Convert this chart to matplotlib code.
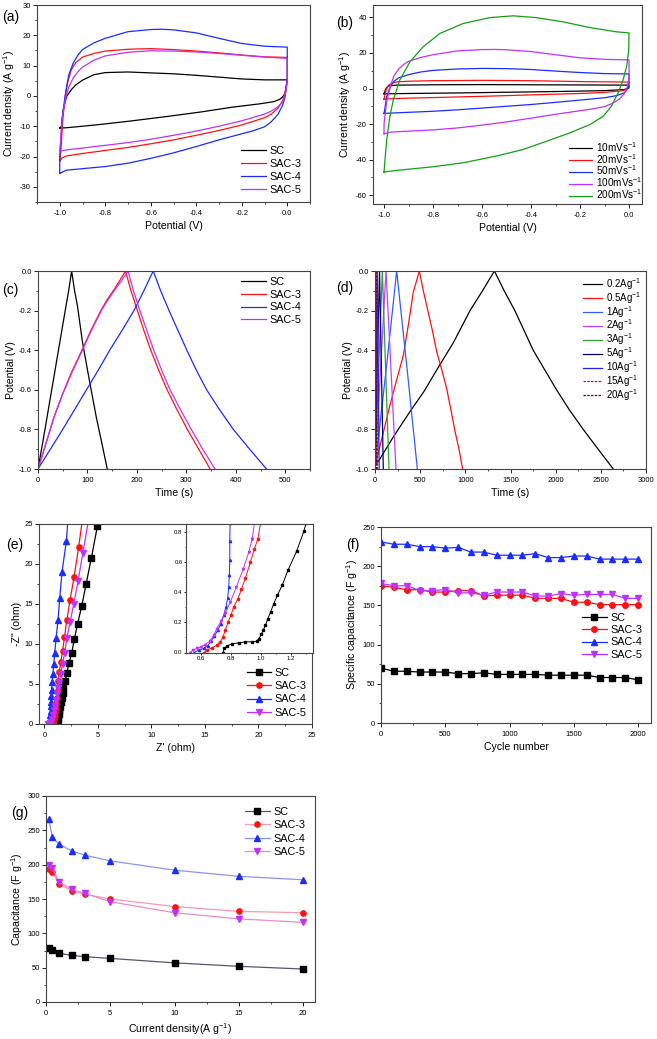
import matplotlib
matplotlib.use('Agg')
import matplotlib.pyplot as plt
from matplotlib.ticker import MultipleLocator

plt.rcParams.update({
    'font.family': ['Liberation Sans', 'DejaVu Sans'],
    'axes.unicode_minus': False,
    'mathtext.fontset': 'custom',
    'mathtext.rm': 'Liberation Sans',
    'mathtext.default': 'regular',
    'xtick.direction': 'out', 'ytick.direction': 'out',
    'xtick.labelsize': 5.5, 'ytick.labelsize': 5.5,
    'axes.labelsize': 7.6,
    'xtick.major.size': 2.8, 'ytick.major.size': 2.8,
    'xtick.minor.size': 1.5, 'ytick.minor.size': 1.5,
    'xtick.major.width': 0.6, 'ytick.major.width': 0.6,
    'xtick.minor.width': 0.5, 'ytick.minor.width': 0.5,
    'xtick.major.pad': 3.0, 'ytick.major.pad': 1.5,
    'axes.linewidth': 0.8,
    'axes.edgecolor': '#444444',
})

# ---------------- data ----------------
# (a) CV of samples at 100 mV/s
a_sc_v = [-1.0, -0.993, -0.985, -0.97, -0.95, -0.93, -0.9, -0.85, -0.8, -0.7, -0.6, -0.5, -0.4, -0.3, -0.2, -0.1, 0.0,
          0.0, -0.01, -0.02, -0.032, -0.06, -0.12, -0.24, -0.38, -0.53, -0.68, -0.82, -0.9, -0.97, -1.0]
a_sc_j = [-10.6, -10.0, -4.6, -0.2, 2.0, 3.6, 5.2, 7.0, 7.7, 7.9, 7.6, 7.3, 6.8, 6.2, 5.6, 5.3, 5.3,
          5.0, 0.8, -0.3, -1.1, -1.9, -2.6, -3.7, -5.3, -6.8, -8.2, -9.4, -10.0, -10.5, -10.6]
a_sac3_v = [-1.0, -0.995, -0.99, -0.985, -0.975, -0.965, -0.95, -0.93, -0.9, -0.85, -0.8, -0.7, -0.6, -0.5, -0.4, -0.3, -0.2, -0.1, 0.0,
            0.0, -0.005, -0.01, -0.02, -0.04, -0.07, -0.1, -0.2, -0.3, -0.4, -0.5, -0.6, -0.7, -0.8, -0.9, -0.97, -0.99, -1.0]
a_sac3_j = [-21.5, -18.0, -12.0, -6.5, 0.5, 4.5, 8.5, 11.0, 12.8, 14.0, 14.8, 15.4, 15.6, 15.3, 14.8, 14.2, 13.5, 12.9, 12.7,
            6.0, 3.0, 1.0, -1.5, -4.0, -6.0, -7.2, -9.6, -11.4, -13.0, -14.5, -15.8, -17.0, -18.0, -19.0, -19.8, -20.5, -21.5]
a_sac4_v = [-1.0, -1.0, -0.995, -0.99, -0.98, -0.97, -0.96, -0.94, -0.92, -0.9, -0.85, -0.8, -0.7, -0.6, -0.55, -0.5, -0.4, -0.3, -0.2, -0.1, 0.0,
            0.0, -0.005, -0.01, -0.02, -0.04, -0.07, -0.1, -0.15, -0.2, -0.3, -0.4, -0.5, -0.6, -0.7, -0.8, -0.9, -0.97, -1.0]
a_sac4_j = [-25.5, -20.0, -14.0, -8.0, -2.0, 3.0, 7.0, 11.0, 13.5, 15.3, 17.5, 19.0, 21.2, 21.9, 22.0, 21.8, 20.8, 19.0, 17.3, 16.4, 16.1,
            6.0, 2.0, -0.5, -3.0, -6.0, -8.5, -10.2, -11.5, -12.5, -14.5, -16.7, -18.8, -20.6, -22.2, -23.3, -24.0, -24.5, -25.5]
a_sac5_v = [-1.0, -0.995, -0.99, -0.98, -0.97, -0.96, -0.94, -0.92, -0.9, -0.85, -0.8, -0.7, -0.6, -0.5, -0.4, -0.3, -0.2, -0.1, 0.0,
            0.0, -0.005, -0.01, -0.02, -0.04, -0.07, -0.1, -0.2, -0.3, -0.4, -0.5, -0.6, -0.7, -0.8, -0.9, -0.97, -1.0]
a_sac5_j = [-18.3, -14.0, -8.0, -3.0, 0.5, 3.0, 6.0, 8.0, 9.5, 11.8, 13.2, 14.4, 14.9, 14.8, 14.5, 14.0, 13.4, 12.8, 12.4,
            5.0, 2.0, 0.0, -2.0, -3.5, -5.0, -6.0, -8.2, -10.0, -11.6, -13.0, -14.3, -15.4, -16.3, -17.2, -17.8, -18.3]

# (b) CV of SAC-4 at different scan rates
b_10_v = [-1.0, -0.995, -0.99, -0.98, -0.95, -0.8, -0.6, -0.4, -0.2, 0.0, 0.0, -0.02, -0.1, -0.3, -0.5, -0.7, -0.9, -1.0]
b_10_j = [-3.0, -1.0, 0.5, 1.5, 1.9, 2.1, 2.2, 2.1, 2.0, 1.9, 0.3, -0.6, -1.2, -1.7, -2.1, -2.5, -2.8, -3.0]
b_20_v = [-1.0, -0.995, -0.99, -0.98, -0.97, -0.95, -0.9, -0.8, -0.6, -0.4, -0.2, 0.0, -0.005, -0.01, -0.03, -0.1, -0.2, -0.4, -0.6, -0.8, -0.95, -1.0]
b_20_j = [-6.0, -3.0, 0.0, 2.0, 3.0, 3.7, 4.1, 4.4, 4.6, 4.4, 3.9, 3.6, 0.5, -0.5, -1.3, -2.2, -2.8, -3.6, -4.4, -5.1, -5.6, -6.0]
b_50_v = [-1.0, -0.995, -0.99, -0.98, -0.97, -0.96, -0.94, -0.9, -0.85, -0.8, -0.7, -0.6, -0.5, -0.4, -0.3, -0.2, -0.1, 0.0,
          0.0, -0.005, -0.01, -0.02, -0.05, -0.1, -0.2, -0.3, -0.4, -0.5, -0.6, -0.7, -0.8, -0.9, -1.0]
b_50_j = [-14.0, -10.0, -5.0, -1.0, 2.0, 4.0, 6.0, 7.8, 9.3, 10.2, 11.0, 11.3, 11.2, 10.7, 9.8, 9.0, 8.4, 8.2,
          3.0, 0.5, -1.0, -2.5, -4.0, -5.2, -6.5, -7.8, -9.0, -10.0, -11.0, -12.0, -12.8, -13.4, -14.0]
b_100_v = a_sac4_v
b_100_j = a_sac4_j
b_200_v = [-1.0, -0.996, -0.989, -0.976, -0.962, -0.935, -0.894, -0.84, -0.772, -0.677, -0.568, -0.473, -0.378, -0.269, -0.16, -0.052, 0.0,
           -0.001, -0.01, -0.024, -0.045, -0.072, -0.106, -0.16, -0.242, -0.337, -0.432, -0.541, -0.677, -0.81, -0.95, -1.0]
b_200_j = [-47.0, -40.0, -28.7, -15.7, -6.3, 4.9, 15.1, 23.5, 31.0, 36.6, 39.9, 40.9, 39.9, 37.5, 34.3, 31.9, 31.3,
           21.6, 12.3, 4.9, -2.6, -10.0, -15.7, -20.3, -25.0, -29.7, -34.3, -38.0, -41.8, -44.2, -46.1, -47.0]

# (c) GCD of samples
c_sc_t = [0, 10, 25, 40, 55, 62, 68, 74, 80, 90, 103, 118, 130, 140]
c_sc_u = [-1.0, -0.86, -0.64, -0.42, -0.2, -0.1, 0.0, -0.1, -0.18, -0.36, -0.54, -0.74, -0.88, -1.0]
c_sac3_t = [0, 15, 32, 50, 68, 87, 107, 127, 141, 155, 166, 177, 188, 201, 214, 228, 244, 261, 281, 302, 325, 348]
c_sac3_u = [-1.0, -0.88, -0.74, -0.62, -0.51, -0.41, -0.3, -0.2, -0.14, -0.09, -0.045, 0.0, -0.1, -0.2, -0.3, -0.4, -0.5, -0.6, -0.7, -0.8, -0.9, -1.0]
c_sac4_t = [0, 50, 98, 122, 145, 170, 194, 214, 233, 248, 265, 283, 301, 320, 341, 367, 395, 428, 462]
c_sac4_u = [-1.0, -0.8, -0.6, -0.5, -0.4, -0.3, -0.2, -0.1, 0.0, -0.1, -0.2, -0.3, -0.4, -0.5, -0.6, -0.7, -0.8, -0.9, -1.0]
c_sac5_t = [0, 15, 32, 50, 69, 88, 108, 128, 143, 157, 170, 182, 193, 206, 220, 234, 250, 267, 288, 310, 333, 358]
c_sac5_u = [-1.0, -0.88, -0.74, -0.62, -0.51, -0.41, -0.3, -0.2, -0.14, -0.09, -0.045, 0.0, -0.1, -0.2, -0.3, -0.4, -0.5, -0.6, -0.7, -0.8, -0.9, -1.0]

# (d) GCD of SAC-4 at different current densities
d_02_t = [10, 40, 200, 387, 540, 683, 870, 1052, 1190, 1322, 1430, 1548, 1650, 1751, 1880, 2010, 2150, 2305, 2470, 2638]
d_02_u = [-0.97, -0.96, -0.84, -0.71, -0.61, -0.5, -0.36, -0.2, -0.1, 0.0, -0.1, -0.2, -0.3, -0.4, -0.5, -0.6, -0.7, -0.8, -0.9, -1.0]
d_05_t = [8, 90, 166, 240, 314, 370, 424, 460, 491, 535, 585, 635, 683, 740, 793, 840, 886, 930, 970]
d_05_u = [-0.97, -0.82, -0.677, -0.55, -0.425, -0.27, -0.106, -0.05, 0.0, -0.1, -0.2, -0.3, -0.408, -0.5, -0.593, -0.7, -0.81, -0.9, -1.0]
d_1_t = [3, 129, 240, 351, 469]
d_1_u = [-0.98, -0.476, 0.0, -0.476, -1.0]
d_2_t = [2, 122, 232]
d_2_u = [-0.98, 0.0, -1.0]
d_3_t = [1, 81, 155]
d_3_u = [-0.98, 0.0, -1.0]
d_5_t = [0, 50, 92]
d_5_u = [-0.98, 0.0, -1.0]
d_10_t = [0, 25, 46]
d_10_u = [-0.98, 0.0, -1.0]
d_15_t = [0, 14, 27]
d_15_u = [-0.98, 0.0, -1.0]
d_20_t = [0, 9, 17]
d_20_u = [-0.98, 0.0, -1.0]

# (e) Nyquist plots
e_sc_re = [1.08, 1.12, 1.16, 1.2, 1.25, 1.3, 1.35, 1.41, 1.47, 1.54, 1.62, 1.7, 1.78, 1.94, 2.1, 2.3, 2.56, 2.8, 3.1, 3.5, 3.9, 4.4, 4.95]
e_sc_im = [0.0, 0.05, 0.15, 0.3, 0.55, 0.85, 1.2, 1.6, 2.1, 2.7, 3.3, 3.9, 4.6, 5.4, 6.4, 7.6, 8.9, 10.6, 12.5, 14.8, 17.5, 20.8, 24.7]
e_sac3_re = [0.75, 0.8, 0.85, 0.9, 0.95, 1.0, 1.05, 1.1, 1.16, 1.23, 1.3, 1.4, 1.53, 1.7, 1.88, 2.1, 2.4, 2.78, 3.2, 3.55]
e_sac3_im = [0.0, 0.1, 0.3, 0.6, 1.0, 1.5, 2.0, 2.6, 3.3, 4.3, 5.4, 6.5, 7.7, 9.1, 10.9, 13.0, 15.5, 18.4, 22.1, 25.5]
e_sac4_re = [0.5, 0.52, 0.54, 0.56, 0.58, 0.6, 0.62, 0.65, 0.68, 0.72, 0.8, 0.88, 0.97, 1.1, 1.28, 1.44, 1.65, 2.06, 2.25]
e_sac4_im = [0.0, 0.25, 0.6, 1.1, 1.6, 2.2, 2.8, 3.5, 4.3, 5.2, 6.3, 7.5, 8.9, 10.8, 13.0, 15.8, 19.0, 22.9, 26.5]
e_sac5_re = [0.3, 0.4, 0.5, 0.6, 0.7, 0.8, 0.9, 1.0, 1.1, 1.2, 1.3, 1.4, 1.53, 1.7, 1.9, 2.1, 2.4, 2.75, 3.15, 3.6, 4.2]
e_sac5_im = [0.0, 0.03, 0.12, 0.3, 0.6, 1.1, 1.7, 2.3, 3.0, 3.7, 4.5, 5.3, 6.3, 7.5, 8.9, 10.7, 12.7, 15.0, 17.9, 21.4, 26.1]
# inset (high-frequency region)
i_sc_re = [0.748, 0.757, 0.775, 0.808, 0.853, 0.898, 0.943, 0.972, 0.99, 1.003, 1.017, 1.032, 1.048, 1.066, 1.088, 1.111, 1.144, 1.182, 1.24, 1.29, 1.303]
i_sc_im = [0.0, 0.027, 0.044, 0.058, 0.064, 0.071, 0.071, 0.075, 0.093, 0.12, 0.148, 0.181, 0.226, 0.27, 0.325, 0.38, 0.447, 0.546, 0.673, 0.81, 0.86]
i_sac3_re = [0.622, 0.64, 0.674, 0.707, 0.73, 0.748, 0.763, 0.781, 0.802, 0.819, 0.846, 0.871, 0.898, 0.931, 0.958, 0.981, 0.999]
i_sac3_im = [0.0, 0.015, 0.031, 0.049, 0.071, 0.104, 0.148, 0.2, 0.252, 0.303, 0.354, 0.42, 0.496, 0.602, 0.69, 0.757, 0.86]
i_sac4_re = [0.555, 0.584, 0.618, 0.645, 0.667, 0.69, 0.712, 0.734, 0.752, 0.768, 0.779, 0.786, 0.79, 0.793, 0.793, 0.795]
i_sac4_im = [0.0, 0.015, 0.027, 0.044, 0.075, 0.11, 0.148, 0.192, 0.248, 0.303, 0.363, 0.436, 0.513, 0.613, 0.739, 0.86]
i_sac5_re = [0.528, 0.546, 0.573, 0.6, 0.629, 0.658, 0.685, 0.707, 0.734, 0.763, 0.797, 0.837, 0.882, 0.92, 0.943, 0.958]
i_sac5_im = [0.0, 0.015, 0.027, 0.038, 0.053, 0.075, 0.115, 0.159, 0.208, 0.265, 0.336, 0.436, 0.553, 0.668, 0.757, 0.86]

# (f) cycling stability
f_cycles = [0, 100, 200, 300, 400, 500, 600, 700, 800, 900, 1000, 1100, 1200, 1300, 1400, 1500, 1600, 1700, 1800, 1900, 2000]
f_sc = [70, 66, 66, 65, 65, 65, 63, 63, 64, 62, 62, 62, 62, 61, 61, 61, 61, 58, 58, 58, 55]
f_sac3 = [175, 173, 170, 170, 167, 167, 169, 169, 162, 163, 163, 163, 159, 159, 159, 154, 154, 151, 151, 151, 151]
f_sac4 = [231, 228, 228, 225, 225, 223, 224, 218, 218, 214, 214, 214, 216, 211, 211, 213, 213, 209, 209, 209, 209]
f_sac5 = [178, 175, 175, 169, 169, 170, 166, 166, 163, 167, 167, 167, 162, 162, 165, 163, 164, 164, 164, 159, 159]

# (g) rate capability
g_current = [0.2, 0.5, 1, 2, 3, 5, 10, 15, 20]
g_sc = [78, 75.5, 71, 68, 66, 63.5, 57, 52, 48]
g_sac3 = [193, 189, 172, 162, 157, 150, 139, 132, 130]
g_sac4 = [267, 240, 230, 220, 214, 205.5, 192, 183, 178]
g_sac5 = [199, 195, 175, 164, 158.5, 146, 130, 121, 116]

# ---------------- drawing ----------------
W, H = 657, 1039
fig = plt.figure(figsize=(W / 100, H / 100), dpi=100)


def add_ax(l, r, t, b):
    return fig.add_axes([l / W, 1 - b / H, (r - l) / W, (b - t) / H])


def style(ax, xmaj, xmin, ymaj, ymin):
    ax.xaxis.set_major_locator(MultipleLocator(xmaj))
    ax.xaxis.set_minor_locator(MultipleLocator(xmin))
    ax.yaxis.set_major_locator(MultipleLocator(ymaj))
    ax.yaxis.set_minor_locator(MultipleLocator(ymin))
    ax.tick_params(which='both', top=False, right=False)


def leg(ax, x, y, fs, ls, hl=2.3, **kw):
    ax.legend(loc='upper left', bbox_to_anchor=(x / W, 1 - y / H), bbox_transform=fig.transFigure,
              frameon=False, fontsize=fs, labelspacing=ls, handlelength=hl, handletextpad=0.35,
              borderpad=0, borderaxespad=0, **kw)


def panel(x, y, s):
    fig.text(x / W, 1 - y / H, s, fontsize=10, va='center', ha='left')


BLK, RED, BLU, VIO, GRN = '#000000', '#ff1010', '#1a2cff', '#c030ff', '#10a010'
LW = 0.9
LFS = 7.8

# (a)
ax = add_ax(37, 310, 5, 202)
ax.plot(a_sc_v, a_sc_j, color=BLK, lw=LW, label='SC')
ax.plot(a_sac3_v, a_sac3_j, color=RED, lw=LW, label='SAC-3')
ax.plot(a_sac4_v, a_sac4_j, color=BLU, lw=LW, label='SAC-4')
ax.plot(a_sac5_v, a_sac5_j, color=VIO, lw=LW, label='SAC-5')
ax.set_xlim(-1.1, 0.1)
ax.set_ylim(-35, 30)
style(ax, 0.2, 0.1, 10, 5)
ax.set_xlabel('Potential (V)', labelpad=2.5)
ax.set_ylabel('Current density (A g$^{-1}$)', labelpad=2)
leg(ax, 241, 146, LFS, 0.27)
panel(2, 17, '(a)')

# (b)
ax = add_ax(373, 642, 5, 204)
ax.plot(b_10_v, b_10_j, color=BLK, lw=LW, label='10mVs$^{-1}$')
ax.plot(b_20_v, b_20_j, color=RED, lw=LW, label='20mVs$^{-1}$')
ax.plot(b_50_v, b_50_j, color=BLU, lw=LW, label='50mVs$^{-1}$')
ax.plot(b_100_v, b_100_j, color=VIO, lw=LW, label='100mVs$^{-1}$')
ax.plot(b_200_v, b_200_j, color=GRN, lw=LW, label='200mVs$^{-1}$')
ax.set_xlim(-1.045, 0.053)
ax.set_ylim(-65, 47)
style(ax, 0.2, 0.1, 20, 10)
ax.set_xlabel('Potential (V)', labelpad=2.5)
ax.set_ylabel('Current density (A g$^{-1}$)', labelpad=2)
leg(ax, 569, 140, 7.2, -0.2)
panel(336, 23, '(b)')

# (c)
ax = add_ax(38, 310, 271, 469)
ax.plot(c_sc_t, c_sc_u, color=BLK, lw=LW, label='SC')
ax.plot(c_sac3_t, c_sac3_u, color=RED, lw=LW, label='SAC-3')
ax.plot(c_sac4_t, c_sac4_u, color=BLU, lw=LW, label='SAC-4')
ax.plot(c_sac5_t, c_sac5_u, color=VIO, lw=LW, label='SAC-5')
ax.set_xlim(0, 550)
ax.set_ylim(-1.0, 0.0)
style(ax, 100, 50, 0.2, 0.1)
ax.set_xlabel('Time (s)', labelpad=2.5)
ax.set_ylabel('Potential (V)', labelpad=2)
leg(ax, 241, 277, LFS, 0.25)
panel(2, 290, '(c)')

# (d)
ax = add_ax(375, 646, 271, 469)
d_sets = [(d_02_t, d_02_u, '#000000', '-', '0.2Ag$^{-1}$'),
          (d_05_t, d_05_u, '#ff1010', '-', '0.5Ag$^{-1}$'),
          (d_1_t, d_1_u, '#2f5cff', '-', '1Ag$^{-1}$'),
          (d_2_t, d_2_u, '#c040ff', '-', '2Ag$^{-1}$'),
          (d_3_t, d_3_u, '#30a030', '-', '3Ag$^{-1}$'),
          (d_5_t, d_5_u, '#000080', '-', '5Ag$^{-1}$'),
          (d_10_t, d_10_u, '#2020ff', '-', '10Ag$^{-1}$'),
          (d_15_t, d_15_u, '#7a20c0', (0, (2, 1)), '15Ag$^{-1}$'),
          (d_20_t, d_20_u, '#800000', (0, (2, 1)), '20Ag$^{-1}$')]
for t, u, c, ls_, lab in d_sets:
    ax.plot(t, u, color=c, lw=LW, ls=ls_, label=lab)
ax.set_xlim(0, 3000)
ax.set_ylim(-1.0, 0.0)
style(ax, 500, 250, 0.2, 0.1)
ax.set_xlabel('Time (s)', labelpad=2.5)
ax.set_ylabel('Potential (V)', labelpad=2)
leg(ax, 583, 276, 7.0, -0.2, hl=2.0)
panel(336, 288, '(d)')

# (e)
ax = add_ax(39, 312, 524, 724)
MS = 3.8
ax.plot(e_sc_re, e_sc_im, color=BLK, lw=LW, marker='s', ms=MS, label='SC')
ax.plot(e_sac3_re, e_sac3_im, color=RED, lw=LW, marker='o', ms=MS, label='SAC-3')
ax.plot(e_sac4_re, e_sac4_im, color=BLU, lw=LW, marker='^', ms=MS, label='SAC-4')
ax.plot(e_sac5_re, e_sac5_im, color=VIO, lw=LW, marker='v', ms=MS, label='SAC-5')
ax.set_xlim(-0.5, 25)
ax.set_ylim(0, 25)
style(ax, 5, 2.5, 5, 2.5)
ax.set_xlabel("Z' (ohm)", labelpad=2.5)
ax.set_ylabel('-Z" (ohm)', labelpad=2)
leg(ax, 247, 668, LFS, 0.3, hl=2.2)
panel(6, 545, '(e)')

ins = add_ax(186, 313, 524, 652.5)
ims = 1.6
ins.plot(i_sc_re, i_sc_im, color=BLK, lw=0.7, marker='s', ms=ims)
ins.plot(i_sac3_re, i_sac3_im, color=RED, lw=0.7, marker='o', ms=ims)
ins.plot(i_sac4_re, i_sac4_im, color=BLU, lw=0.7, marker='^', ms=ims)
ins.plot(i_sac5_re, i_sac5_im, color=VIO, lw=0.7, marker='v', ms=ims)
ins.set_xlim(0.5, 1.35)
ins.set_ylim(0, 0.855)
style(ins, 0.2, 0.1, 0.2, 0.1)
ins.tick_params(labelsize=4.3, length=1.5, pad=1)
ins.tick_params(which='minor', length=0.8)

# (f)
ax = add_ax(381, 651, 527, 723)
FMS = 4.0
ax.plot(f_cycles, f_sc, color=BLK, lw=LW, marker='s', ms=FMS, label='SC')
ax.plot(f_cycles, f_sac3, color=RED, lw=LW, marker='o', ms=FMS, label='SAC-3')
ax.plot(f_cycles, f_sac4, color=BLU, lw=LW, marker='^', ms=FMS, label='SAC-4')
ax.plot(f_cycles, f_sac5, color=VIO, lw=LW, marker='v', ms=FMS, label='SAC-5')
ax.set_xlim(0, 2100)
ax.set_ylim(0, 250)
style(ax, 500, 250, 50, 25)
ax.set_xlabel('Cycle number', labelpad=3)
ax.set_ylabel('Specific capacitance (F g$^{-1}$)', labelpad=2)
leg(ax, 582, 613, LFS, 0.2, hl=2.3)
panel(346, 545, '(f)')

# (g)
ax = add_ax(46, 315, 796, 1002)
GMS = 3.8
ax.plot(g_current, g_sc, color='#555570', lw=LW, marker='s', ms=GMS, mfc=BLK, mec=BLK, label='SC')
ax.plot(g_current, g_sac3, color='#f59aae', lw=LW, marker='o', ms=GMS, mfc=RED, mec=RED, label='SAC-3')
ax.plot(g_current, g_sac4, color='#8a95f0', lw=LW, marker='^', ms=GMS, mfc=BLU, mec=BLU, label='SAC-4')
ax.plot(g_current, g_sac5, color='#e58ad8', lw=LW, marker='v', ms=GMS, mfc=VIO, mec=VIO, label='SAC-5')
ax.set_xlim(0, 20.93)
ax.set_ylim(0, 300)
style(ax, 5, 2.5, 50, 25)
ax.set_xlabel('Current density(A g$^{-1}$)', labelpad=3)
ax.set_ylabel('Capacitance (F g$^{-1}$)', labelpad=2)
leg(ax, 245, 807, LFS, 0.3, hl=2.3)
panel(11, 813, '(g)')

fig.savefig('out.png', dpi=100)
